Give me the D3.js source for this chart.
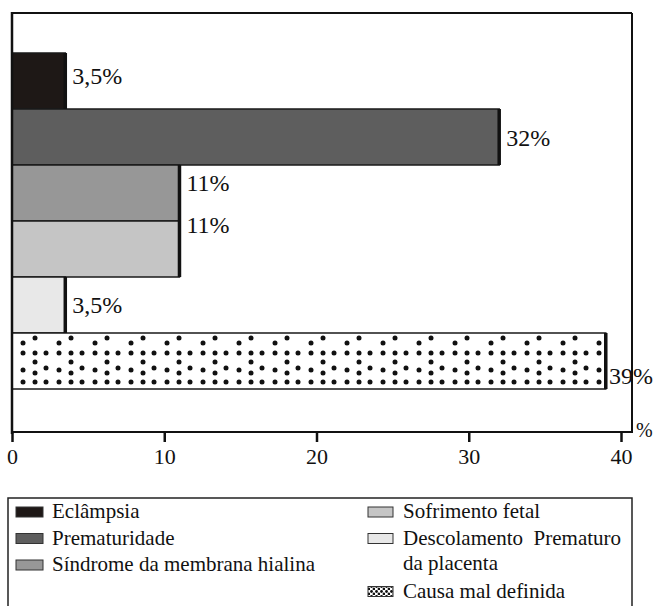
<!DOCTYPE html>
<html>
<head>
<meta charset="utf-8">
<script src="https://cdn.jsdelivr.net/npm/d3@7"></script>
<style>
  body { margin: 0; background: #fff; }
  svg { font-family: "Liberation Serif", "Times New Roman", serif; }
</style>
</head>
<body>
<div id="main"></div>
<script>
// categories and values
const categories = [
  'Eclâmpsia',
  'Prematuridade',
  'Síndrome da membrana hialina',
  'Sofrimento fetal',
  'Descolamento Prematuro da placenta',
  'Causa mal definida'
];
const values = [3.5, 32, 11, 11, 3.5, 39];
const valueLabels = ['3,5%', '32%', '11%', '11%', '3,5%', '39%'];
const xTicks = [0, 10, 20, 30, 40];
const legendLines = [
  ['Eclâmpsia'],
  ['Prematuridade'],
  ['Síndrome da membrana hialina'],
  ['Sofrimento fetal'],
  ['Descolamento  Prematuro', 'da placenta'],
  ['Causa mal definida']
];

const fills = ['#1e1816', '#5e5e5e', '#979797', '#c5c5c5', '#e8e8e8', 'url(#dots)'];
// the labels in the original do not sit exactly at the bar centres
const labelDy = [-5, 1, -10, -24, 0, 15];

const width = 654, height = 606;
const frame = {left: 12, top: 13, right: 632, bottom: 432};

const svg = d3.select('#main').append('svg')
  .attr('width', width)
  .attr('height', height);

const defs = svg.append('defs');

// dotted fill for "Causa mal definida"
const dots = defs.append('pattern')
  .attr('id', 'dots')
  .attr('patternUnits', 'userSpaceOnUse')
  .attr('x', 20).attr('y', 333)
  .attr('width', 36).attr('height', 56);
dots.append('rect').attr('width', 36).attr('height', 56).attr('fill', '#fff');
[[0, 10], [12, 5], [0, 20], [12, 20], [23, 20], [12, 29],
 [0, 37], [12, 40], [23, 35], [0, 49], [12, 49], [23, 49]].forEach(([cx, cy]) => {
  dots.append('circle').attr('cx', cx + 3).attr('cy', cy).attr('r', 2.5).attr('fill', '#111');
});

const smallDots = defs.append('pattern')
  .attr('id', 'smallDots')
  .attr('patternUnits', 'userSpaceOnUse')
  .attr('width', 5).attr('height', 5);
smallDots.append('rect').attr('width', 5).attr('height', 5).attr('fill', '#fff');
smallDots.append('circle').attr('cx', 1.5).attr('cy', 1.5).attr('r', 1.4).attr('fill', '#111');
smallDots.append('circle').attr('cx', 4).attr('cy', 4).attr('r', 1.4).attr('fill', '#111');

const x = d3.scaleLinear()
  .domain([0, 40])
  .range([frame.left, 621]);

const y = d3.scaleBand()
  .domain(categories)
  .range([53, 389])
  .padding(0);

// bars
const bars = svg.append('g').attr('class', 'bars');
bars.selectAll('rect')
  .data(values)
  .join('rect')
    .attr('x', x(0))
    .attr('y', (d, i) => y(categories[i]))
    .attr('width', d => x(d) - x(0))
    .attr('height', y.bandwidth())
    .attr('fill', (d, i) => fills[i])
    .attr('stroke', '#1a1a1a')
    .attr('stroke-width', 1.5);

// thick right edge on each bar
bars.selectAll('line')
  .data(values)
  .join('line')
    .attr('x1', d => x(d))
    .attr('x2', d => x(d))
    .attr('y1', (d, i) => y(categories[i]))
    .attr('y2', (d, i) => y(categories[i]) + y.bandwidth())
    .attr('stroke', '#111')
    .attr('stroke-width', 3.5);

// value labels, kept inside the page on the right
svg.append('g').attr('class', 'labels')
  .selectAll('text')
  .data(values)
  .join('text')
    .attr('y', (d, i) => y(categories[i]) + y.bandwidth() / 2 + labelDy[i] + 8)
    .attr('font-size', 24)
    .attr('fill', '#111')
    .text((d, i) => valueLabels[i])
    .attr('x', function(d) {
      const w = this.getComputedTextLength();
      return Math.min(x(d) + 7, width - w - 1);
    });

// frame
const border = svg.append('g')
  .attr('fill', 'none')
  .attr('stroke', '#111');
border.append('line')
  .attr('x1', frame.left).attr('x2', frame.right)
  .attr('y1', frame.top).attr('y2', frame.top)
  .attr('stroke-width', 2);
border.append('line')
  .attr('x1', frame.right).attr('x2', frame.right)
  .attr('y1', frame.top).attr('y2', frame.bottom)
  .attr('stroke-width', 2);
border.append('line')
  .attr('x1', frame.left).attr('x2', frame.left)
  .attr('y1', frame.top - 1).attr('y2', frame.bottom + 2)
  .attr('stroke-width', 2.5);
border.append('line')
  .attr('x1', frame.left).attr('x2', frame.right + 1)
  .attr('y1', frame.bottom).attr('y2', frame.bottom)
  .attr('stroke-width', 2.2);

// x axis
const axis = svg.append('g')
  .attr('transform', `translate(0,${frame.bottom})`)
  .call(d3.axisBottom(x).tickValues(xTicks).tickSize(10).tickPadding(6));
axis.select('.domain').remove();
axis.selectAll('.tick line').attr('stroke', '#111').attr('stroke-width', 2.5);
axis.selectAll('.tick text')
  .attr('font-family', '"Liberation Serif", "Times New Roman", serif')
  .attr('font-size', 22)
  .attr('fill', '#111');

svg.append('text')
  .attr('x', 636)
  .attr('y', 437)
  .attr('font-size', 20)
  .attr('fill', '#111')
  .text('%');

// legend
svg.append('path')
  .attr('d', `M8,${height + 2}V498H632V${height + 2}`)
  .attr('fill', 'none')
  .attr('stroke', '#222')
  .attr('stroke-width', 1.5);

const legendCols = [
  {swatchX: 16, swatchW: 27, textX: 52},
  {swatchX: 368, swatchW: 25, textX: 403}
];
const rowBase = 518, rowStep = 26.5;

const legend = svg.append('g').attr('class', 'legend');
let rows = [0, 0];
categories.forEach((c, i) => {
  const col = i < 3 ? 0 : 1;
  const spec = legendCols[col];
  const base = rowBase + rows[col] * rowStep;
  legend.append('rect')
    .attr('x', spec.swatchX)
    .attr('y', base - 11)
    .attr('width', spec.swatchW)
    .attr('height', 10)
    .attr('fill', i === 5 ? 'url(#smallDots)' : fills[i])
    .attr('stroke', '#333')
    .attr('stroke-width', 1);
  const t = legend.append('text')
    .attr('x', spec.textX)
    .attr('y', base)
    .attr('font-size', 21)
    .attr('fill', '#111')
    .attr('xml:space', 'preserve')
    .style('white-space', 'pre');
  legendLines[i].forEach((line, k) => {
    t.append('tspan')
      .attr('x', spec.textX)
      .attr('dy', k === 0 ? 0 : rowStep - 1)
      .text(line);
  });
  rows[col] += legendLines[i].length;
});
</script>
</body>
</html>
